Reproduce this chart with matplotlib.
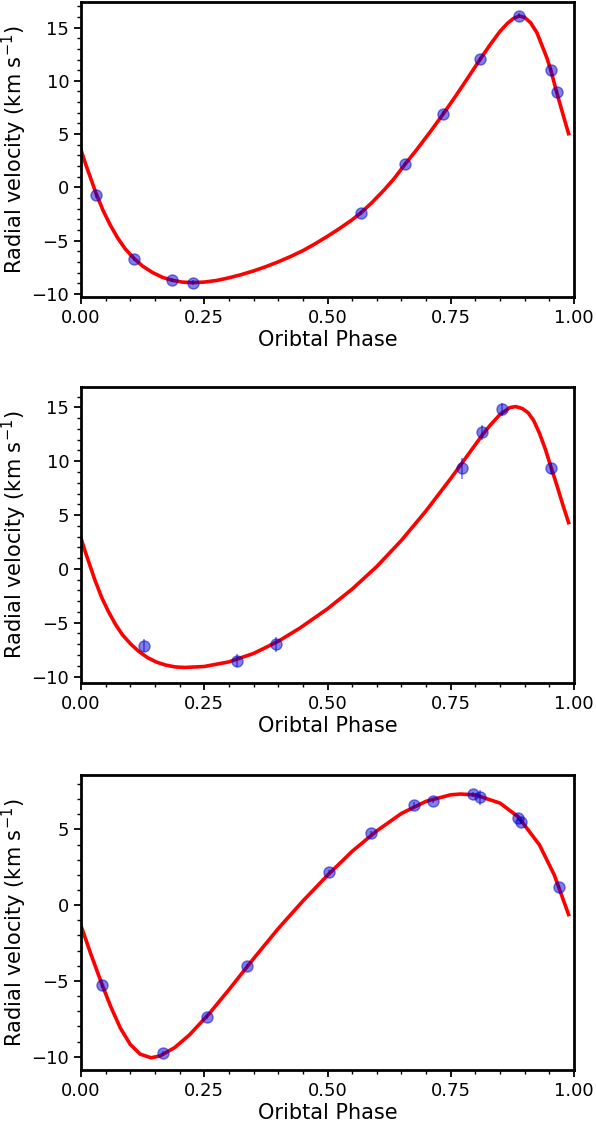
import numpy as np
import matplotlib
matplotlib.use("Agg")
from matplotlib import pyplot as plt
from matplotlib.ticker import MultipleLocator, FormatStrFormatter

obs1_ph  = [0.030, 0.108, 0.184, 0.2265, 0.567, 0.657, 0.735, 0.810, 0.889, 0.953, 0.965]
obs1_rv  = [-0.76, -6.71, -8.71, -8.94, -2.42, 2.19, 6.92, 12.06, 16.13, 11.02, 8.92]
obs1_err = [0.2, 0.2, 0.2, 0.2, 0.2, 0.2, 0.2, 0.2, 0.2, 0.2, 0.2]
fit1_ph  = [0, .01, .02, .03, .045, .06, .075, .09, .108, .125, .145, .165, .184, .205,
            .225, .25, .275, .3, .325, .35, .375, .4, .425, .45, .475, .5, .525, .55,
            .567, .59, .615, .635, .657, .68, .71, .735, .76, .785, .81, .83, .85, .865,
            .877, .889, .9, .912, .925, .9446, .953, .965, .977, .989]
fit1_rv  = [3.5, 2.1, 0.8, -0.5, -2.2, -3.6, -4.8, -5.8, -6.7, -7.4, -8.0, -8.45, -8.72,
            -8.9, -8.95, -8.9, -8.75, -8.5, -8.2, -7.85, -7.45, -7.0, -6.5, -5.95, -5.3,
            -4.6, -3.85, -3.05, -2.42, -1.44, -0.24, 0.81, 2.15, 3.48, 5.31, 6.91, 8.57,
            10.3, 12.05, 13.4, 14.65, 15.4, 15.85, 16.1, 15.95, 15.45, 14.5, 12.2, 11.0,
            8.9, 6.95, 5.04]

# --- panel 2
obs2_ph  = [0.128, 0.316, 0.395, 0.773, 0.813, 0.854, 0.953]
obs2_rv  = [-7.16, -8.55, -7.0, 9.34, 12.68, 14.82, 9.34]
obs2_err = [0.6, 0.6, 0.7, 1.0, 0.7, 0.6, 0.5]
fit2_ph  = [0, .0093, .0187, .028, .042, .056, .07, .084, .101, .117, .135, .154, .172,
            .191, .21, .25, .3, .35, .4, .444, .5, .55, .6, .65, .7, .75, .775, .8, .815,
            .83, .85, .87, .882, .895, .907, .918, .93, .942, .953, .965, .977, .989]
fit2_rv  = [2.84, 1.5, 0.24, -1.01, -2.66, -4.0, -5.16, -6.12, -6.99, -7.66, -8.25, -8.68,
            -8.94, -9.11, -9.16, -9.07, -8.64, -7.86, -6.73, -5.5, -3.71, -1.88, 0.22,
            2.65, 5.4, 8.4, 9.97, 11.55, 12.5, 13.35, 14.35, 14.99, 15.08, 14.9, 14.5,
            13.8, 12.6, 11.1, 9.5, 7.8, 6.0, 4.3]

# --- panel 3
obs3_ph  = [0.0433, 0.166, 0.2556, 0.3367, 0.5037, 0.588, 0.675, 0.714, 0.7945, 0.809,
            0.887, 0.893, 0.9696]
obs3_rv  = [-5.29, -9.78, -7.36, -4.02, 2.20, 4.78, 6.60, 6.87, 7.31, 7.11, 5.77, 5.50, 1.19]
obs3_err = [0.15, 0.15, 0.15, 0.15, 0.15, 0.1, 0.2, 0.15, 0.15, 0.5, 0.2, 0.15, 0.15]
fit3_ph  = [0, .02, .0433, .06, .08, .1, .12, .142, .16, .19, .22, .26, .3, .35, .4, .45,
            .5, .55, .6, .65, .7, .75, .77, .8, .85, .887, .93, .96, .989]
fit3_rv  = [-1.36, -3.23, -5.29, -6.67, -8.12, -9.19, -9.83, -10.07, -9.95, -9.4, -8.56,
            -7.16, -5.58, -3.53, -1.55, 0.27, 1.97, 3.55, 4.9, 6.05, 6.85, 7.28, 7.33,
            7.27, 6.73, 5.82, 3.97, 1.99, -0.62]

panels = [
    (obs1_ph, obs1_rv, obs1_err, fit1_ph, fit1_rv, (-10.3, 17.4)),
    (obs2_ph, obs2_rv, obs2_err, fit2_ph, fit2_rv, (-10.6, 16.9)),
    (obs3_ph, obs3_rv, obs3_err, fit3_ph, fit3_rv, (-10.88, 8.58)),
]
ax_pos = [[0.1359, 0.7353, 0.8272, 0.2629],
          [0.1359, 0.3913, 0.8272, 0.2638],
          [0.1359, 0.0463, 0.8272, 0.2629]]

fig = plt.figure(figsize=(5.96, 11.22), dpi=100)
for pos, (oph, orv, oerr, fph, frv, ylim) in zip(ax_pos, panels):
    ax = fig.add_axes(pos)
    ax.plot(fph, frv, color='red', lw=2.6, zorder=2, solid_joinstyle='round')
    ax.errorbar(oph, orv, yerr=oerr, fmt='o', ms=8, color='mediumblue',
                mfc='mediumblue', mec='mediumblue', alpha=0.5, elinewidth=1.2,
                capsize=0, zorder=3)
    ax.set_xlim(0, 1)
    ax.set_ylim(*ylim)
    ax.xaxis.set_major_locator(MultipleLocator(0.25))
    ax.xaxis.set_minor_locator(MultipleLocator(0.05))
    ax.yaxis.set_major_locator(MultipleLocator(5))
    ax.yaxis.set_minor_locator(MultipleLocator(1))
    ax.xaxis.set_major_formatter(FormatStrFormatter('%.2f'))
    ax.tick_params(which='both', direction='out', top=False, right=False, labelsize=13)
    ax.tick_params(which='major', length=5, width=1.3)
    ax.tick_params(which='minor', length=3, width=1.0)
    for s in ax.spines.values():
        s.set_linewidth(2)
    ax.set_xlabel('Oribtal Phase', fontsize=15, labelpad=2)
    ax.set_ylabel(r'Radial velocity (km s$^{-1}$)', fontsize=15)
    ax.yaxis.set_label_coords(-0.106, 0.5)

fig.savefig('out.png', dpi=100)
